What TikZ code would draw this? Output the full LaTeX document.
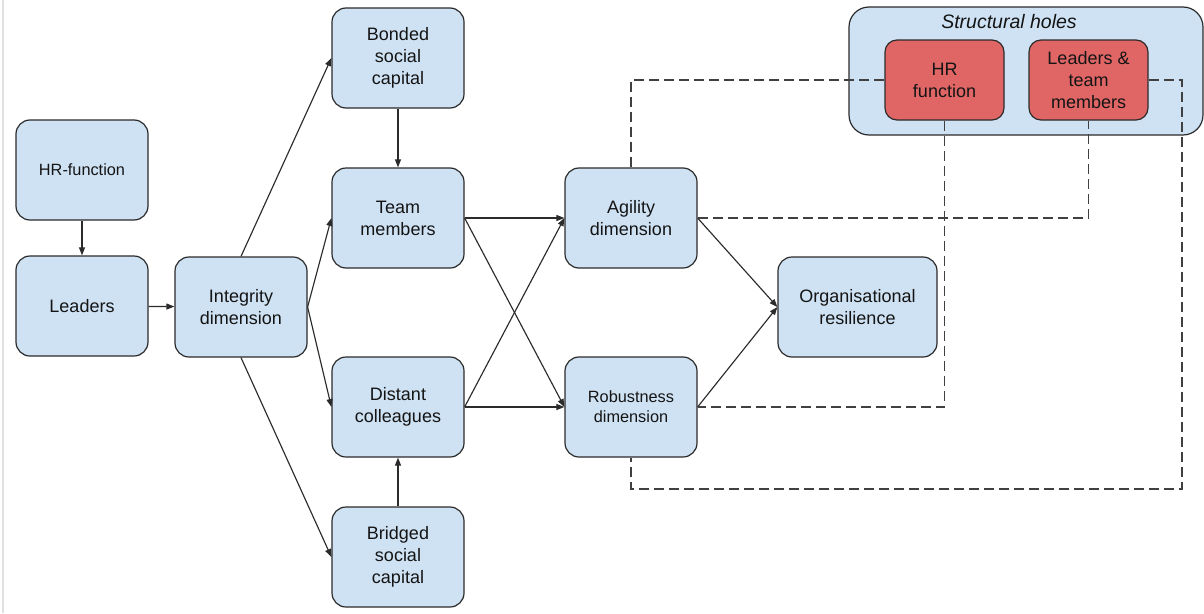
\documentclass[tikz,border=0pt]{standalone}
\usepackage{fontspec}
\setmainfont{Liberation Sans}
\usetikzlibrary{arrows.meta}
\definecolor{boxblue}{HTML}{CFE2F3}
\definecolor{boxred}{HTML}{E06666}
\definecolor{edge}{HTML}{2B2B2B}
\tikzset{
  box/.style={draw=edge, line width=1.2pt, fill=boxblue, rounded corners=14pt,
    minimum width=132pt, minimum height=100pt, inner sep=0pt, align=center,
    text=black!92, font=\fontsize{18}{22}\selectfont},
  smalltext/.style={font=\fontsize{16.3}{20}\selectfont},
  redbox/.style={box, fill=boxred, minimum width=119pt, minimum height=80pt, rounded corners=12pt},
  holder/.style={draw=edge, line width=1.2pt, fill=boxblue, rounded corners=20pt,
    minimum width=354pt, minimum height=128pt, inner sep=0pt},
  link/.style={draw=edge, line width=1.15pt, -{Triangle[length=8pt,width=6pt]}},
  tie/.style={draw=edge!90, line width=1.2pt, dash pattern=on 10pt off 5pt}
}
\begin{document}
\begin{tikzpicture}[x=1pt, y=-1pt]
  \useasboundingbox (0,0) rectangle (1204,613);
  \draw[black!12, line width=1.5pt] (3,0) -- (3,613);

  % main chain
  \node[box, smalltext] (hrfn) at (82,170) {HR-function};
  \node[box] (lead) at (82,306) {Leaders};
  \node[box] (integ) at (241,307) {Integrity\\dimension};
  \node[box] (bond) at (398,58) {Bonded\\social\\capital};
  \node[box] (team) at (398,218) {Team\\members};
  \node[box] (dist) at (398,407) {Distant\\colleagues};
  \node[box] (bridge) at (398,557) {Bridged\\social\\capital};
  \node[box] (agil) at (631,218) {Agility\\dimension};
  \node[box, smalltext] (rob) at (631,407) {Robustness\\dimension};
  \node[box, minimum width=159pt] (org) at (857.5,307) {Organisational\\resilience};

  % structural holes group
  \node[holder] (holes) at (1026,71) {};
  \node[font=\fontsize{19.5}{23}\selectfont\itshape, text=black!92] (holestitle) at (1009,22) {Structural holes};
  \node[redbox] (hrred) at (944.5,80) {HR\\function};
  \node[redbox] (ltm) at (1088.5,80) {Leaders \&\\team\\members};

  % solid influences
  \draw[link] (hrfn) -- (lead);
  \draw[link] (lead) -- (integ);
  \draw[link] (integ.north) -- (bond.west);
  \draw[link] (integ.east) -- (team.west);
  \draw[link] (integ.east) -- (dist.west);
  \draw[link] (integ.south) -- (bridge.west);
  \draw[link] (bond) -- (team);
  \draw[link] (bridge) -- (dist);
  \draw[link] (team.east) -- (agil.west);
  \draw[link] (team.east) -- (rob.west);
  \draw[link] (dist.east) -- (agil.west);
  \draw[link] (dist.east) -- (rob.west);
  \draw[link] (agil.east) -- (org.west);
  \draw[link] (rob.east) -- (org.west);

  % dashed structural-hole ties
  \coordinate (farcorner) at (1182,489);
  \draw[tie] (hrred.west) -| (agil.north);
  \draw[tie] (agil.east) -| (ltm.south);
  \draw[tie] (hrred.south) |- (rob.east);
  \draw[tie] (ltm.east) -| (farcorner) -| (rob.south);
\end{tikzpicture}
\end{document}
